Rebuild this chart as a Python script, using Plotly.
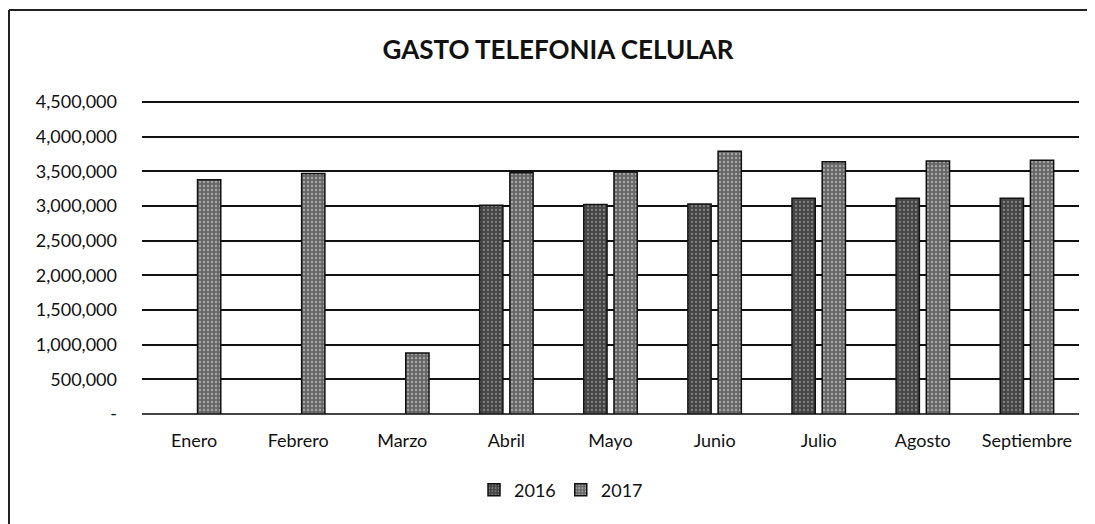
import plotly.graph_objects as go

# Datos del grafico
meses = ["Enero", "Febrero", "Marzo", "Abril", "Mayo", "Junio", "Julio", "Agosto", "Septiembre"]
gasto_2016 = [None, None, None, 3010000, 3020000, 3030000, 3110000, 3110000, 3110000]
gasto_2017 = [3380000, 3470000, 880000, 3480000, 3490000, 3790000, 3640000, 3650000, 3660000]

y_ticks = [0, 500000, 1000000, 1500000, 2000000, 2500000, 3000000, 3500000, 4000000, 4500000]
y_text = ["-"] + [f"{v:,}" for v in y_ticks[1:]]

# la pagina html deja 8px de margen, se compensa aqui
W, H = 1095, 524
L, R, T, B = 134, 24, 92, 118
y_max = 4500000 * 314 / 312

fig = go.Figure()
fig.add_trace(go.Bar(x=meses, y=gasto_2016, name="2016",
                     marker=dict(color="#454545", line=dict(color="#111111", width=1.5),
                                 pattern=dict(shape=".", fgcolor="#bbbbbb", size=4, solidity=0.25))))
fig.add_trace(go.Bar(x=meses, y=gasto_2017, name="2017",
                     marker=dict(color="#666666", line=dict(color="#111111", width=1.5),
                                 pattern=dict(shape=".", fgcolor="#e0e0e0", size=4, solidity=0.3))))

def px_x(v):
    return (v - L) / (W - L - R)

def px_y(v):
    return (H - B - v) / (H - T - B)

# Marco del grafico (bordes izquierdo y superior del escaneo)
fig.add_shape(type="line", xref="paper", yref="paper",
              x0=px_x(1), x1=px_x(1), y0=px_y(2), y1=px_y(524),
              line=dict(color="#222222", width=2))
fig.add_shape(type="line", xref="paper", yref="paper",
              x0=px_x(1), x1=px_x(1095), y0=px_y(2), y1=px_y(2),
              line=dict(color="#222222", width=2))

fig.update_layout(
    width=W, height=H,
    margin=dict(l=L, r=R, t=T, b=B, autoexpand=False),
    paper_bgcolor="white", plot_bgcolor="white",
    font=dict(family="Lato, Open Sans, sans-serif", size=18, color="#111111"),
    title=dict(text="<b>GASTO TELEFONIA CELULAR</b>", x=px_x(550), xref="paper", xanchor="center",
               y=1 - 42 / H, yanchor="middle", font=dict(size=26, color="#111111")),
    barmode="group", bargap=0.42, bargroupgap=0.23,
    legend=dict(orientation="h", x=px_x(553), xanchor="center", y=px_y(482), yanchor="middle",
                font=dict(size=18), itemwidth=30, traceorder="normal"),
    showlegend=True,
)
fig.update_xaxes(showline=False, ticks="", tickfont=dict(size=18), showgrid=False,
                 ticklabelstandoff=14)
fig.update_yaxes(range=[0, y_max], tickvals=y_ticks, ticktext=y_text,
                 showgrid=True, gridcolor="#111111", gridwidth=1.5,
                 zeroline=True, zerolinecolor="#444444", zerolinewidth=1.5,
                 tickfont=dict(size=18), ticks="", ticklabelstandoff=24)

fig.write_html("out.html")
